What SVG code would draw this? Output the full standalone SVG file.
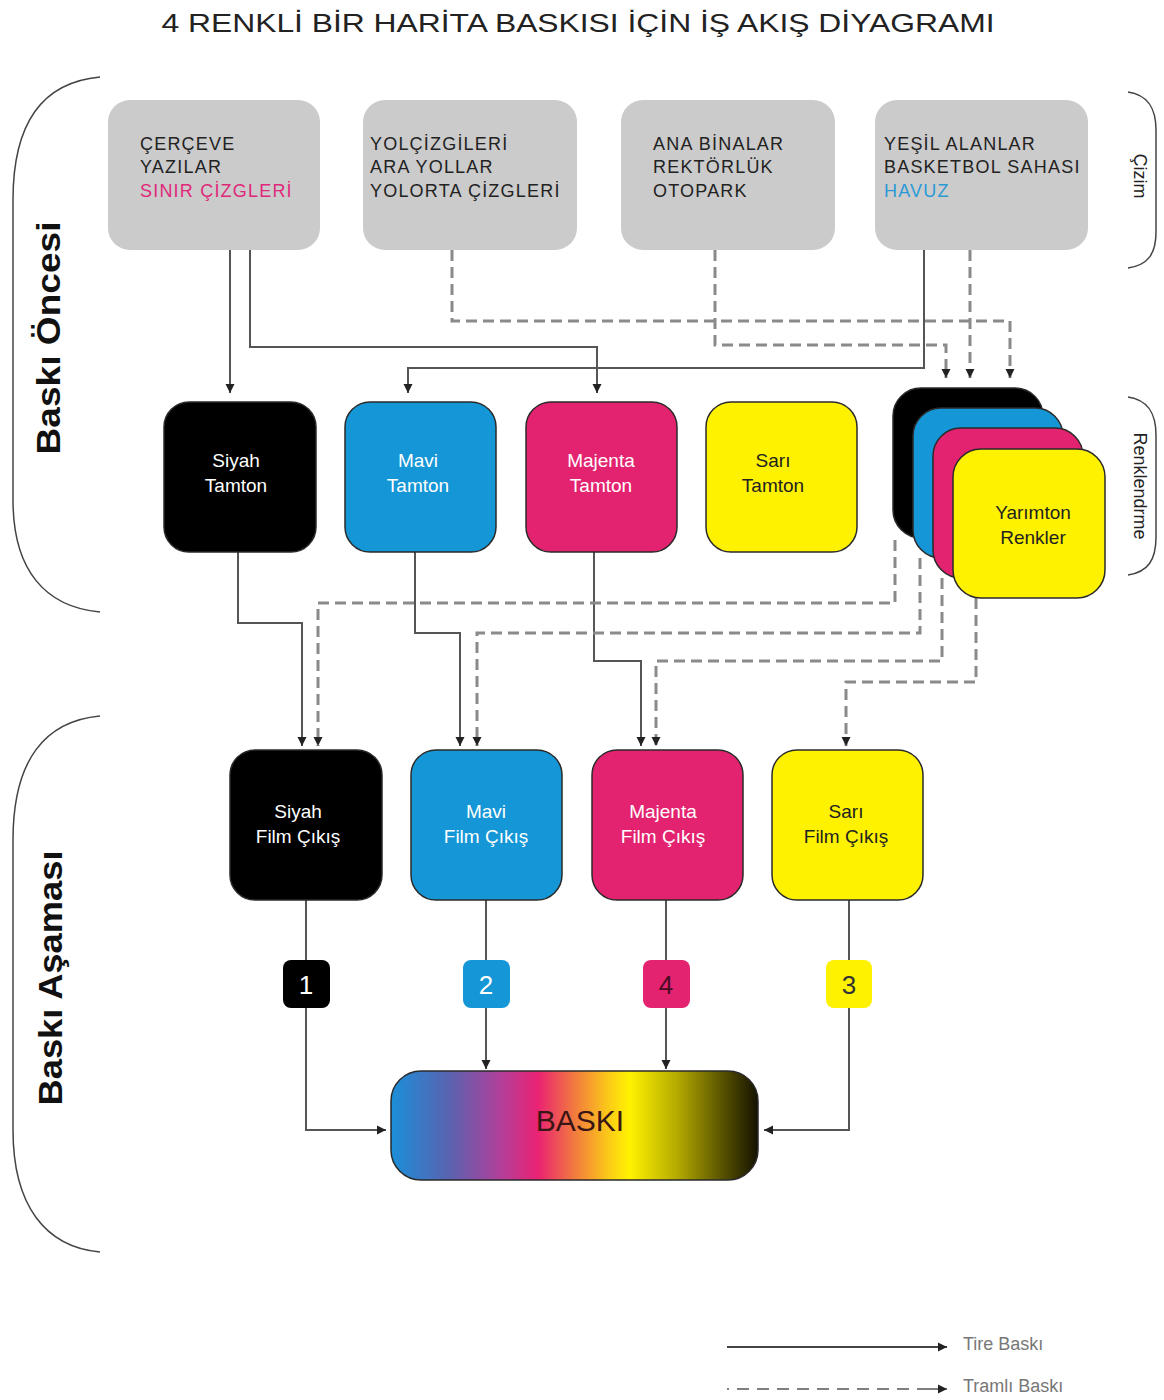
<svg xmlns="http://www.w3.org/2000/svg" width="1164" height="1400" viewBox="0 0 1164 1400">
<style>
.t{font-family:"Liberation Sans",Arial,sans-serif}
.box{font-family:"Liberation Sans",Arial,sans-serif;font-size:18px;letter-spacing:1.2px;fill:#222}
.lbl{font-family:"Liberation Sans",Arial,sans-serif;font-size:19px;text-anchor:middle}
.gray{fill:#cbcbcb}
.out{stroke:#2a2a2a;stroke-width:1.5}
.sol{fill:none;stroke:#555;stroke-width:2}
.dsh{fill:none;stroke:#8a8a8a;stroke-width:3;stroke-dasharray:11 6}
.brk{fill:none;stroke:#444;stroke-width:1.5}
.side{font-family:"Liberation Sans",Arial,sans-serif;font-size:33px;font-weight:bold;text-anchor:middle;fill:#111}
.rs{font-family:"Liberation Sans",Arial,sans-serif;font-size:18px;text-anchor:middle;fill:#222}
.num{font-family:"Liberation Sans",Arial,sans-serif;font-size:26px;text-anchor:middle}
</style>
<defs>
<marker id="ar" viewBox="0 0 10 10" refX="10" refY="5" markerWidth="9" markerHeight="10" markerUnits="userSpaceOnUse" orient="auto">
<path d="M0,0 L10,5 L0,10 z" fill="#222"/>
</marker>
<linearGradient id="gr" x1="0" y1="0" x2="1" y2="0">
<stop offset="0" stop-color="#1b8fd9"/>
<stop offset="0.16" stop-color="#5a62b0"/>
<stop offset="0.3" stop-color="#b23f9a"/>
<stop offset="0.4" stop-color="#ea2273"/>
<stop offset="0.5" stop-color="#f27a3e"/>
<stop offset="0.6" stop-color="#fcd015"/>
<stop offset="0.65" stop-color="#fff200"/>
<stop offset="0.78" stop-color="#b5aa00"/>
<stop offset="0.9" stop-color="#5a5400"/>
<stop offset="1" stop-color="#141200"/>
</linearGradient>
</defs>
<rect width="1164" height="1400" fill="#fff"/>

<text class="t" x="578" y="32" font-size="26" text-anchor="middle" fill="#222" textLength="833" lengthAdjust="spacingAndGlyphs">4 RENKLİ BİR HARİTA BASKISI İÇİN İŞ AKIŞ DİYAGRAMI</text>

<!-- brackets -->
<g id="bracket-baski-oncesi">
<path class="brk" d="M100,77 C45,82 13,120 13,200 L13,500 C13,570 45,607 100,612"/>
<text class="side" transform="translate(60,338) rotate(-90)" textLength="233" lengthAdjust="spacingAndGlyphs">Baskı Öncesi</text>
</g>
<g id="bracket-baski-asamasi">
<path class="brk" d="M100,716 C45,721 13,760 13,840 L13,1130 C13,1205 45,1247 100,1252"/>
<text class="side" transform="translate(62,978) rotate(-90)" textLength="255" lengthAdjust="spacingAndGlyphs">Baskı Aşaması</text>
</g>
<g id="bracket-cizim">
<path class="brk" d="M1128,92 C1148,95 1156,108 1156,130 L1156,232 C1156,254 1148,265 1128,268"/>
<text class="rs" transform="translate(1134,176) rotate(90)">Çizim</text>
</g>
<g id="bracket-renklendirme">
<path class="brk" d="M1128,397 C1148,400 1156,413 1156,435 L1156,537 C1156,560 1148,572 1128,575"/>
<text class="rs" transform="translate(1134,486) rotate(90)">Renklendrme</text>
</g>

<!-- connectors -->
<g id="connectors">
<path class="sol" d="M230,250 V393" marker-end="url(#ar)"/>
<path class="sol" d="M250,250 V347 H597 V393" marker-end="url(#ar)"/>
<path class="sol" d="M924,250 V368 H408 V393" marker-end="url(#ar)"/>
<path class="dsh" d="M452,250 V321 H1010 V378" marker-end="url(#ar)"/>
<path class="dsh" d="M715,250 V345 H946 V378" marker-end="url(#ar)"/>
<path class="dsh" d="M970,250 V378" marker-end="url(#ar)"/>

<path class="sol" d="M238,552 V623 H302 V746" marker-end="url(#ar)"/>
<path class="sol" d="M415,552 V633 H460 V746" marker-end="url(#ar)"/>
<path class="sol" d="M594,552 V661 H641 V746" marker-end="url(#ar)"/>
<path class="dsh" d="M895,540 V603 H318 V746" marker-end="url(#ar)"/>
<path class="dsh" d="M920,558 V633 H477 V746" marker-end="url(#ar)"/>
<path class="dsh" d="M942,578 V661 H656 V746" marker-end="url(#ar)"/>
<path class="dsh" d="M976,598 V682 H846 V746" marker-end="url(#ar)"/>

<path class="sol" d="M306,900 V960"/>
<path class="sol" d="M306,1008 V1130 H386" marker-end="url(#ar)"/>
<path class="sol" d="M486,900 V960"/>
<path class="sol" d="M486,1008 V1069" marker-end="url(#ar)"/>
<path class="sol" d="M666,900 V960"/>
<path class="sol" d="M666,1008 V1069" marker-end="url(#ar)"/>
<path class="sol" d="M849,900 V960"/>
<path class="sol" d="M849,1008 V1130 H764" marker-end="url(#ar)"/>
</g>

<!-- top gray boxes -->
<g id="n-cerceve">
<rect class="gray" x="108" y="100" width="212" height="150" rx="22"/>
<text class="box" x="140" y="150">ÇERÇEVE</text>
<text class="box" x="140" y="173">YAZILAR</text>
<text class="box" x="140" y="197" style="fill:#e0287a">SINIR ÇİZGLERİ</text>
</g>
<g id="n-yol">
<rect class="gray" x="363" y="100" width="214" height="150" rx="22"/>
<text class="box" x="370" y="150">YOLÇİZGİLERİ</text>
<text class="box" x="370" y="173">ARA YOLLAR</text>
<text class="box" x="370" y="197">YOLORTA ÇİZGLERİ</text>
</g>
<g id="n-bina">
<rect class="gray" x="621" y="100" width="214" height="150" rx="22"/>
<text class="box" x="653" y="150">ANA BİNALAR</text>
<text class="box" x="653" y="173">REKTÖRLÜK</text>
<text class="box" x="653" y="197">OTOPARK</text>
</g>
<g id="n-yesil">
<rect class="gray" x="875" y="100" width="213" height="150" rx="22"/>
<text class="box" x="884" y="150">YEŞİL ALANLAR</text>
<text class="box" x="884" y="173">BASKETBOL SAHASI</text>
<text class="box" x="884" y="197" style="fill:#2a9ad6">HAVUZ</text>
</g>

<!-- middle row -->
<g id="n-siyah-tamton">
<rect class="out" x="164" y="402" width="152" height="150" rx="25" fill="#000"/>
<text class="lbl" x="236" y="467" fill="#fff">Siyah</text>
<text class="lbl" x="236" y="492" fill="#fff">Tamton</text>
</g>
<g id="n-mavi-tamton">
<rect class="out" x="345" y="402" width="151" height="150" rx="25" fill="#1596d6"/>
<text class="lbl" x="418" y="467" fill="#fff">Mavi</text>
<text class="lbl" x="418" y="492" fill="#fff">Tamton</text>
</g>
<g id="n-majenta-tamton">
<rect class="out" x="526" y="402" width="151" height="150" rx="25" fill="#e3236f"/>
<text class="lbl" x="601" y="467" fill="#fff">Majenta</text>
<text class="lbl" x="601" y="492" fill="#fff">Tamton</text>
</g>
<g id="n-sari-tamton">
<rect class="out" x="706" y="402" width="151" height="150" rx="25" fill="#fff200"/>
<text class="lbl" x="773" y="467" fill="#222">Sarı</text>
<text class="lbl" x="773" y="492" fill="#222">Tamton</text>
</g>
<g id="n-yarimton">
<rect class="out" x="893" y="388" width="150" height="150" rx="28" fill="#000"/>
<rect class="out" x="913" y="408" width="150" height="150" rx="28" fill="#1596d6"/>
<rect class="out" x="933" y="428" width="150" height="150" rx="28" fill="#e3236f"/>
<rect class="out" x="953" y="449" width="152" height="149" rx="28" fill="#fff200"/>
<text class="lbl" x="1033" y="519" fill="#222">Yarımton</text>
<text class="lbl" x="1033" y="544" fill="#222">Renkler</text>
</g>

<!-- film row -->
<g id="n-siyah-film">
<rect class="out" x="230" y="750" width="152" height="150" rx="25" fill="#000"/>
<text class="lbl" x="298" y="818" fill="#fff">Siyah</text>
<text class="lbl" x="298" y="843" fill="#fff">Film Çıkış</text>
</g>
<g id="n-mavi-film">
<rect class="out" x="411" y="750" width="151" height="150" rx="25" fill="#1596d6"/>
<text class="lbl" x="486" y="818" fill="#fff">Mavi</text>
<text class="lbl" x="486" y="843" fill="#fff">Film Çıkış</text>
</g>
<g id="n-majenta-film">
<rect class="out" x="592" y="750" width="151" height="150" rx="25" fill="#e3236f"/>
<text class="lbl" x="663" y="818" fill="#fff">Majenta</text>
<text class="lbl" x="663" y="843" fill="#fff">Film Çıkış</text>
</g>
<g id="n-sari-film">
<rect class="out" x="772" y="750" width="151" height="150" rx="25" fill="#fff200"/>
<text class="lbl" x="846" y="818" fill="#222">Sarı</text>
<text class="lbl" x="846" y="843" fill="#222">Film Çıkış</text>
</g>

<!-- badges -->
<g id="b1"><rect x="283" y="960" width="47" height="48" rx="8" fill="#000"/><text class="num" x="306" y="994" fill="#fff">1</text></g>
<g id="b2"><rect x="463" y="960" width="47" height="48" rx="8" fill="#1596d6"/><text class="num" x="486" y="994" fill="#fff">2</text></g>
<g id="b4"><rect x="643" y="960" width="47" height="48" rx="8" fill="#e3236f"/><text class="num" x="666" y="994" fill="#4a0c24">4</text></g>
<g id="b3"><rect x="826" y="960" width="46" height="48" rx="8" fill="#fff200"/><text class="num" x="849" y="994" fill="#333">3</text></g>

<!-- BASKI -->
<g id="n-baski">
<rect x="391" y="1071" width="367" height="109" rx="30" fill="url(#gr)" stroke="#2a2a2a" stroke-width="1.5"/>
<text class="t" x="580" y="1131" font-size="30" text-anchor="middle" fill="#3a1515">BASKI</text>
</g>

<!-- legend -->
<g id="legend">
<path d="M727,1347 H947" stroke="#444" stroke-width="2" fill="none" marker-end="url(#ar)"/>
<text class="t" x="963" y="1350" font-size="18" fill="#777">Tire Baskı</text>
<path d="M727,1389 H947" stroke="#555" stroke-width="1.5" stroke-dasharray="2 8 12 8 12 8 12 8 12 8 12 8 12 8 12 8 12 8 12 8 40" fill="none" marker-end="url(#ar)"/>
<text class="t" x="963" y="1392" font-size="18" fill="#777">Tramlı Baskı</text>
</g>
</svg>
